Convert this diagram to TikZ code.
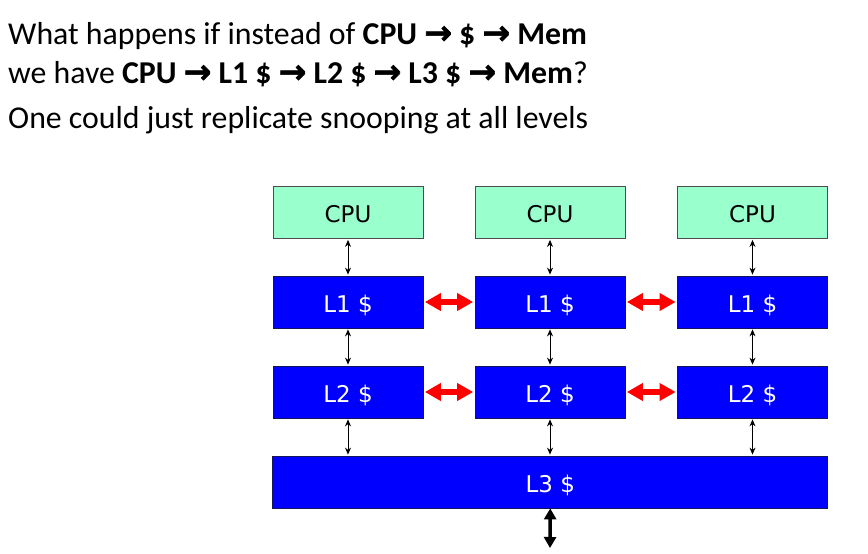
\documentclass[tikz,border=0pt]{standalone}
\usepackage{fontspec}
\setmainfont{Carlito}
\newfontfamily\boxfont{DejaVu Sans}
\newfontfamily\arrowfont[FakeBold=2]{DejaVu Sans Bold}
\usetikzlibrary{arrows.meta}

\definecolor{cpugreen}{RGB}{153,255,204}
\definecolor{cacheblue}{RGB}{0,0,255}
\definecolor{cacheedge}{RGB}{20,20,90}

\newcommand{\ra}{{\arrowfont\fontsize{33}{34}\selectfont →}}

\tikzset{
  headline/.style={anchor=base west, inner sep=0pt, font=\fontsize{31.8}{34}\selectfont},
  labelfont/.style={font=\boxfont\fontsize{23}{26}\selectfont, text height=20pt, text depth=0pt},
  cpubox/.style={draw=black!70, fill=cpugreen, minimum width=150pt, minimum height=52pt,
    inner sep=0pt, labelfont, line width=0.8pt},
  cachebox/.style={draw=cacheedge, fill=cacheblue, text=white, minimum height=52pt,
    inner sep=0pt, labelfont, line width=0.8pt},
  link/.style={line width=1pt, {Stealth[length=7pt,width=6pt]}-{Stealth[length=7pt,width=6pt]}, shorten <=1pt, shorten >=1pt},
  snoop/.style={red, line width=6pt, {Triangle[length=16pt,width=17pt]}-{Triangle[length=16pt,width=17pt]}, shorten <=1.5pt, shorten >=1.5pt},
  membus/.style={line width=3.5pt, {Triangle[length=11pt,width=12pt]}-{Triangle[length=11pt,width=12pt]}},
}

\begin{document}
\begin{tikzpicture}[x=1pt, y=-1pt]
  \useasboundingbox (0,0) rectangle (868,554);

  % heading text
  \node[headline] (t1) at (8,44) {What happens if instead of \textbf{CPU \ra{} \$ \ra{} Mem}};
  \node[headline] (t2) at (8,83) {we have \textbf{CPU \ra{} L1 \$ \ra{} L2 \$ \ra{} L3 \$ \ra{} Mem}?};
  \node[headline] (t3) at (8,128) {One could just replicate snooping at all levels};

  % processors and private caches, three columns
  \foreach \i/\x in {1/348, 2/550, 3/752.5} {
    \node[cpubox] (cpu\i) at (\x,212.5) {CPU};
    \node[cachebox, minimum width=150pt] (la\i) at (\x,302) {L1 \$};
    \node[cachebox, minimum width=150pt] (lb\i) at (\x,392) {L2 \$};
  }

  % shared last-level cache
  \node[cachebox, minimum width=555pt] (lc) at (550.25,482) {L3 \$};
  \coordinate (mem) at (550,548);

  % vertical links
  \foreach \i in {1,2,3} {
    \draw[link] (cpu\i.south) -- (la\i.north);
    \draw[link] (la\i.south) -- (lb\i.north);
    \draw[link] (lb\i.south) -- (lb\i.south |- lc.north);
  }
  \draw[membus] (lc.south) -- (mem);

  % snooping between neighbours
  \draw[snoop] (la1.east) -- (la2.west);
  \draw[snoop] (la2.east) -- (la3.west);
  \draw[snoop] (lb1.east) -- (lb2.west);
  \draw[snoop] (lb2.east) -- (lb3.west);
\end{tikzpicture}
\end{document}
